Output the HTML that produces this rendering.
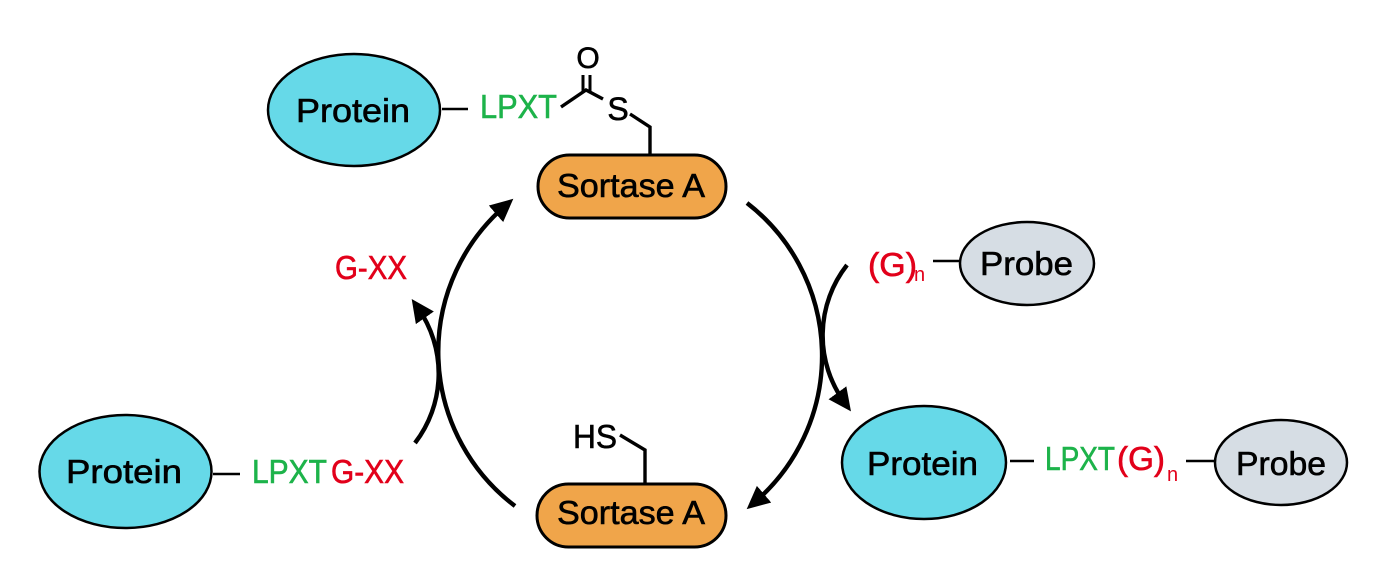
<!DOCTYPE html>
<html>
<head>
<meta charset="utf-8">
<style>
  html,body{margin:0;padding:0;background:#fff;}
  svg{display:block;}
  text{font-family:"Liberation Sans", sans-serif;}
  .t{stroke-width:0.6;}
</style>
</head>
<body>
<svg width="1400" height="588" viewBox="0 0 1400 588" xmlns="http://www.w3.org/2000/svg">
  <defs>
    <marker id="ah" markerUnits="userSpaceOnUse" markerWidth="26" markerHeight="24" refX="12" refY="11" orient="auto" viewBox="0 0 26 24">
      <path d="M0,0 L23,11 L0,22 Z" fill="#000"/>
    </marker>
  </defs>
  <rect width="1400" height="588" fill="#fff"/>

  <!-- Big cycle arcs -->
  <path d="M747,203 A193,193 0 0 1 755,502" fill="none" stroke="#000" stroke-width="4.4" marker-end="url(#ah)"/>
  <path d="M515,506 A193,193 0 0 1 505,206" fill="none" stroke="#000" stroke-width="4.4" marker-end="url(#ah)"/>
  <!-- Small arcs -->
  <path d="M847,265 A114,114 0 0 0 844.5,402.5" fill="none" stroke="#000" stroke-width="4.4" marker-end="url(#ah)"/>
  <path d="M415,443 A114,114 0 0 0 418,308" fill="none" stroke="#000" stroke-width="4.4" marker-end="url(#ah)"/>

  <!-- Top protein -->
  <ellipse cx="354" cy="110" rx="86" ry="56" fill="#66d9e8" stroke="#000" stroke-width="2.5"/>
  <text class="t" x="296" y="122" font-size="33" textLength="114" lengthAdjust="spacingAndGlyphs" fill="#000" stroke="#000">Protein</text>
  <line x1="442" y1="109" x2="468" y2="109" stroke="#000" stroke-width="2.5"/>
  <text class="t" x="480" y="118" font-size="33" textLength="77" lengthAdjust="spacingAndGlyphs" fill="#1db34a" stroke="#1db34a">LPXT</text>

  <!-- Thioester -->
  <polyline points="561,107 586,90 603,99" fill="none" stroke="#000" stroke-width="3.4"/>
  <line x1="583" y1="75" x2="583" y2="92" stroke="#000" stroke-width="3"/>
  <line x1="590" y1="75" x2="590" y2="92" stroke="#000" stroke-width="3"/>
  <text class="t" x="588" y="68" font-size="30" text-anchor="middle" fill="#000" stroke="#000">O</text>
  <text class="t" x="618" y="120" font-size="32" text-anchor="middle" fill="#000" stroke="#000">S</text>
  <polyline points="630,114 650,127 650,156" fill="none" stroke="#000" stroke-width="3.4"/>

  <!-- Top Sortase A -->
  <rect x="538" y="155" width="188" height="63" rx="31.5" ry="31.5" fill="#f0a54a" stroke="#000" stroke-width="3"/>
  <text class="t" x="557" y="197" font-size="33" textLength="148" lengthAdjust="spacingAndGlyphs" fill="#000" stroke="#000">Sortase A</text>

  <!-- (G)n - Probe top -->
  <text class="t" x="868" y="276" font-size="33" textLength="49" lengthAdjust="spacingAndGlyphs" fill="#e2001a" stroke="#e2001a">(G)</text>
  <text x="914" y="281" font-size="20" fill="#e2001a">n</text>
  <line x1="933" y1="261" x2="961" y2="261" stroke="#000" stroke-width="2.5"/>
  <ellipse cx="1027" cy="263.5" rx="67" ry="41.5" fill="#d6dde4" stroke="#000" stroke-width="2.5"/>
  <text class="t" x="980" y="275" font-size="33" textLength="93" lengthAdjust="spacingAndGlyphs" fill="#000" stroke="#000">Probe</text>

  <!-- G-XX released -->
  <text class="t" x="335" y="279" font-size="33" textLength="72" lengthAdjust="spacingAndGlyphs" fill="#e2001a" stroke="#e2001a">G-XX</text>

  <!-- Bottom Sortase with HS -->
  <text class="t" x="573" y="448" font-size="33" textLength="44" lengthAdjust="spacingAndGlyphs" fill="#000" stroke="#000">HS</text>
  <polyline points="620,435 645,450 645,485" fill="none" stroke="#000" stroke-width="3.4"/>
  <rect x="537" y="484" width="189" height="63" rx="31.5" ry="31.5" fill="#f0a54a" stroke="#000" stroke-width="3"/>
  <text class="t" x="557" y="524" font-size="33" textLength="148" lengthAdjust="spacingAndGlyphs" fill="#000" stroke="#000">Sortase A</text>

  <!-- Bottom-left protein -->
  <ellipse cx="125.5" cy="471.5" rx="86" ry="56.5" fill="#66d9e8" stroke="#000" stroke-width="2.5"/>
  <text class="t" x="66" y="483" font-size="33" textLength="116" lengthAdjust="spacingAndGlyphs" fill="#000" stroke="#000">Protein</text>
  <line x1="213" y1="474" x2="240" y2="474" stroke="#000" stroke-width="2.5"/>
  <text class="t" x="252" y="483" font-size="33" textLength="75" lengthAdjust="spacingAndGlyphs" fill="#1db34a" stroke="#1db34a">LPXT</text>
  <text class="t" x="331" y="483" font-size="33" textLength="73" lengthAdjust="spacingAndGlyphs" fill="#e2001a" stroke="#e2001a">G-XX</text>

  <!-- Bottom-right product -->
  <ellipse cx="924" cy="462.5" rx="82" ry="56.5" fill="#66d9e8" stroke="#000" stroke-width="2.5"/>
  <text class="t" x="867" y="475" font-size="33" textLength="111" lengthAdjust="spacingAndGlyphs" fill="#000" stroke="#000">Protein</text>
  <line x1="1010" y1="461" x2="1034" y2="461" stroke="#000" stroke-width="2.5"/>
  <text class="t" x="1045" y="470" font-size="33" textLength="70" lengthAdjust="spacingAndGlyphs" fill="#1db34a" stroke="#1db34a">LPXT</text>
  <text class="t" x="1117" y="470" font-size="33" textLength="48" lengthAdjust="spacingAndGlyphs" fill="#e2001a" stroke="#e2001a">(G)</text>
  <text x="1167" y="481" font-size="20" fill="#e2001a">n</text>
  <line x1="1186" y1="461" x2="1214" y2="461" stroke="#000" stroke-width="2.5"/>
  <ellipse cx="1281" cy="462.5" rx="66" ry="42.5" fill="#d6dde4" stroke="#000" stroke-width="2.5"/>
  <text class="t" x="1236" y="475" font-size="33" textLength="90" lengthAdjust="spacingAndGlyphs" fill="#000" stroke="#000">Probe</text>
</svg>
</body>
</html>
